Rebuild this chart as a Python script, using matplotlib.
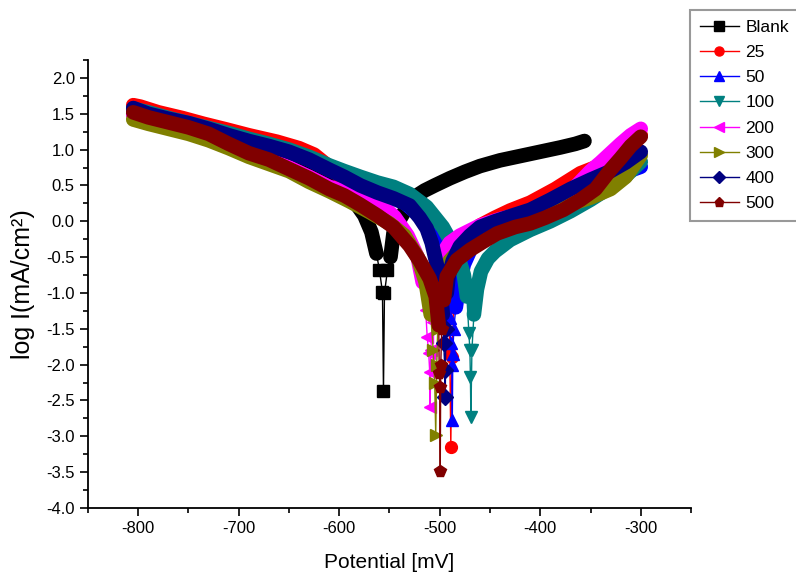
import numpy as np
import matplotlib
matplotlib.use("Agg")
import matplotlib.pyplot as plt
from matplotlib.ticker import MultipleLocator, FormatStrFormatter
from matplotlib.lines import Line2D

plt.rcParams["font.family"] = ["Liberation Sans", "DejaVu Sans"]
plt.rcParams["axes.unicode_minus"] = False

labels = ["Blank", "25", "50", "100", "200", "300", "400", "500"]
colors = ["#000000", "#ff0000", "#0000ff", "#008080", "#ff00ff", "#808000", "#000080", "#800000"]
markers = ["s", "o", "^", "v", "<", ">", "D", "p"]

# potential (mV) and log I (mA/cm2)
blank_E = [-805, -780, -760, -740, -720, -700, -680, -660, -640, -620, -600, -585, -575, -568,
           -563, -560, -557, -556, -555, -552, -549, -546, -540, -535, -525, -515, -505, -490,
           -475, -460, -440, -420, -400, -380, -365, -356]
blank_I = [1.50, 1.43, 1.36, 1.28, 1.20, 1.10, 1.00, 0.90, 0.77, 0.62, 0.45, 0.28, 0.08, -0.15,
           -0.45, -0.68, -0.99, -2.37, -1.00, -0.68, -0.50, -0.16, 0.02, 0.14, 0.34, 0.43, 0.50, 0.60,
           0.69, 0.77, 0.85, 0.91, 0.97, 1.03, 1.08, 1.12]

red_E = [-805, -798, -780, -756, -735, -712, -690, -662, -640, -625, -610, -600, -580, -560, -540,
         -525, -515, -505, -498, -494, -491, -490, -489, -488, -486, -483, -478, -470, -460, -445,
         -430, -410, -385, -360, -340, -320, -310, -300]
red_I = [1.62, 1.60, 1.52, 1.44, 1.36, 1.28, 1.20, 1.11, 1.02, 0.93, 0.76, 0.64, 0.52, 0.45, 0.32,
         0.15, 0.00, -0.22, -0.45, -0.75, -1.20, -1.85, -3.15, -1.90, -1.20, -0.80, -0.50, -0.25, -0.06, 0.05,
         0.15, 0.26, 0.45, 0.67, 0.78, 0.95, 1.08, 1.20]

blue_E = [-805, -790, -770, -750, -730, -710, -690, -670, -650, -630, -610, -590, -570, -550, -535,
          -520, -508, -500, -495, -492, -490, -489, -488, -487.5, -487, -486, -484, -481, -476, -468,
          -455, -440, -420, -400, -380, -360, -340, -320, -310, -300]
blue_I = [1.55, 1.50, 1.42, 1.35, 1.28, 1.20, 1.12, 1.05, 0.98, 0.86, 0.72, 0.60, 0.50, 0.38, 0.26,
          0.08, -0.15, -0.38, -0.62, -0.95, -1.35, -1.70, -2.00, -2.77, -1.85, -1.50, -1.20, -0.90, -0.60, -0.35,
          -0.15, -0.02, 0.08, 0.18, 0.30, 0.43, 0.55, 0.66, 0.71, 0.76]

teal_E = [-805, -790, -770, -750, -730, -710, -690, -670, -650, -630, -610, -595, -579, -562, -546,
          -530, -513, -497, -483, -476, -473, -471, -470, -469.5, -469, -468, -466, -463, -459, -452,
          -445, -430, -410, -390, -370, -350, -330, -315, -300]
teal_I = [1.57, 1.52, 1.44, 1.37, 1.30, 1.23, 1.15, 1.08, 1.00, 0.90, 0.78, 0.70, 0.62, 0.54, 0.48,
          0.38, 0.20, -0.08, -0.43, -0.75, -1.05, -1.56, -1.80, -2.17, -2.73, -1.80, -1.30, -0.95, -0.70, -0.52,
          -0.42, -0.26, -0.12, 0.00, 0.14, 0.30, 0.48, 0.63, 0.83]

mag_E = [-805, -790, -770, -750, -730, -710, -690, -670, -650, -630, -610, -590, -575, -560, -545,
         -532, -522, -517, -514, -512.5, -511, -510, -509.5, -509, -507, -505, -502, -497, -490, -480,
         -460, -440, -420, -400, -380, -365, -350, -340, -330, -320, -310, -300]
mag_I = [1.48, 1.43, 1.35, 1.28, 1.20, 1.08, 0.96, 0.86, 0.75, 0.62, 0.48, 0.40, 0.33, 0.25, 0.06,
         -0.20, -0.50, -0.85, -1.24, -1.61, -1.84, -2.10, -2.59, -1.80, -1.40, -1.00, -0.70, -0.45, -0.30, -0.20,
         -0.06, 0.03, 0.10, 0.18, 0.33, 0.48, 0.70, 0.82, 0.95, 1.08, 1.20, 1.29]

olive_E = [-805, -790, -770, -750, -730, -710, -690, -670, -650, -630, -610, -590, -570, -550, -535,
           -522, -514, -509, -506.5, -505, -504, -503, -502, -500, -497, -490, -480, -465, -450, -430,
           -410, -390, -370, -350, -330, -315, -300]
olive_I = [1.42, 1.36, 1.29, 1.22, 1.13, 1.02, 0.90, 0.80, 0.70, 0.55, 0.42, 0.28, 0.13, -0.03, -0.20,
           -0.50, -0.85, -1.30, -1.80, -2.26, -2.98, -2.00, -1.50, -1.10, -0.80, -0.55, -0.40, -0.25, -0.13, -0.02,
           0.03, 0.13, 0.24, 0.33, 0.45, 0.62, 0.92]

navy_E = [-805, -790, -770, -750, -730, -710, -690, -670, -650, -630, -610, -595, -579, -562, -546,
          -530, -520, -513, -508, -503, -499, -497, -496, -495, -494.5, -494, -493, -491, -487, -480,
          -470, -460, -445, -430, -410, -390, -370, -350, -330, -315, -300]
navy_I = [1.58, 1.50, 1.43, 1.37, 1.29, 1.20, 1.12, 1.05, 0.97, 0.86, 0.72, 0.62, 0.50, 0.40, 0.32,
          0.22, 0.05, -0.10, -0.30, -0.60, -0.95, -1.30, -1.70, -2.08, -2.45, -1.50, -1.00, -0.75, -0.55, -0.35,
          -0.20, -0.08, 0.00, 0.07, 0.16, 0.30, 0.45, 0.58, 0.70, 0.82, 0.97]

mar_E = [-805, -790, -770, -750, -730, -710, -690, -670, -650, -630, -610, -595, -579, -562, -546,
         -530, -520, -510, -504, -501, -500.5, -500, -499.5, -499, -498, -496, -493, -483, -470, -455,
         -443, -425, -410, -395, -377, -360, -345, -330, -320, -310, -300]
mar_I = [1.52, 1.45, 1.38, 1.31, 1.22, 1.08, 0.95, 0.86, 0.73, 0.60, 0.45, 0.36, 0.23, 0.08, -0.08,
         -0.34, -0.55, -0.80, -1.05, -1.45, -2.11, -2.31, -3.48, -2.00, -1.50, -1.10, -0.77, -0.54, -0.40, -0.27,
         -0.17, -0.08, -0.03, 0.05, 0.16, 0.30, 0.45, 0.72, 0.88, 1.05, 1.18]

series_E = [blank_E, red_E, blue_E, teal_E, mag_E, olive_E, navy_E, mar_E]
series_I = [blank_I, red_I, blue_I, teal_I, mag_I, olive_I, navy_I, mar_I]
# below this log I the dense band turns into single markers on a thin line
band_floor = [-0.55, -1.5, -1.3, -1.3, -1.2, -1.3, -1.3, -1.45]

fig = plt.figure(figsize=(7.96, 5.76), dpi=100)
ax = fig.add_axes([88 / 796, 68 / 576, 603 / 796, 448 / 576])

handles = []
for i in range(len(labels)):
    E = np.array(series_E[i])
    I = np.array(series_I[i])
    band = np.ma.masked_less(I, band_floor[i])
    tail = np.ma.masked_greater_equal(I, band_floor[i])
    ax.plot(E, I, color=colors[i], lw=1, zorder=2 + i)
    ax.plot(E, band, color=colors[i], lw=10.5, solid_capstyle="round",
            solid_joinstyle="round", zorder=2 + i)
    ax.plot(E, tail, ls="none", marker=markers[i], ms=8.5, color=colors[i],
            mec=colors[i], zorder=2 + i)
    handles.append(Line2D([], [], color=colors[i], lw=1, marker=markers[i],
                          ms=6.5, mec=colors[i], label=labels[i]))

ax.set_xlim(-850, -250)
ax.set_ylim(-4.0, 2.25)
ax.xaxis.set_major_locator(MultipleLocator(100))
ax.xaxis.set_minor_locator(MultipleLocator(50))
ax.yaxis.set_major_locator(MultipleLocator(0.5))
ax.yaxis.set_minor_locator(MultipleLocator(0.25))
ax.yaxis.set_major_formatter(FormatStrFormatter("%.1f"))
ax.tick_params(which="major", direction="out", length=6, width=1.2, labelsize=12)
ax.tick_params(which="minor", direction="out", length=3.5, width=1.2)
for s in ["top", "right"]:
    ax.spines[s].set_visible(False)
for s in ["left", "bottom"]:
    ax.spines[s].set_linewidth(1.3)

ax.set_xlabel("Potential [mV]", fontsize=15, labelpad=12)
ax.set_ylabel("log I(mA/cm²)", fontsize=18, labelpad=8)

leg = ax.legend(handles=handles, loc="upper left", bbox_to_anchor=(690 / 796, 1 - 10 / 576),
                bbox_transform=fig.transFigure, fontsize=12.5,
                handlelength=2.25, handletextpad=0.4, borderpad=0.55,
                labelspacing=0.58, borderaxespad=0, fancybox=False)
leg.get_frame().set_edgecolor("#808080")
leg.get_frame().set_linewidth(1.5)

fig.savefig("out.png", dpi=100)
